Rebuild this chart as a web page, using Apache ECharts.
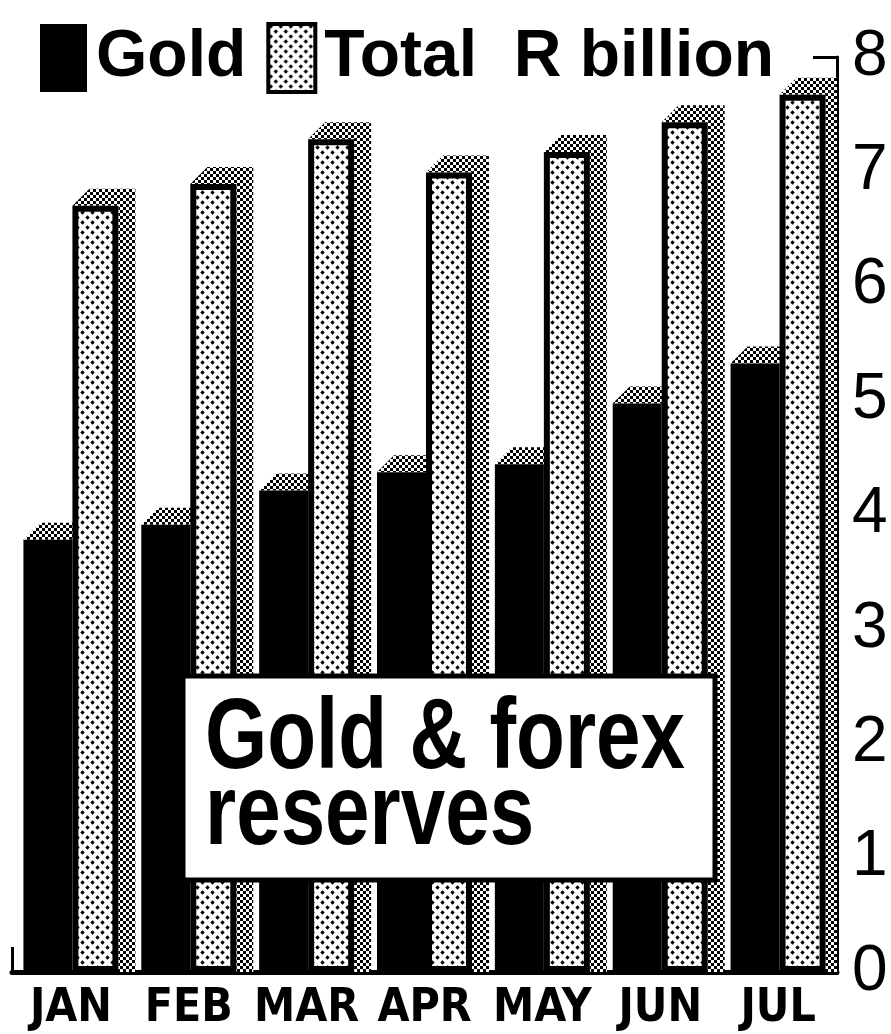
<!DOCTYPE html>
<html>
<head>
<meta charset="utf-8">
<script src="https://cdn.jsdelivr.net/npm/echarts@6/dist/echarts.min.js"></script>
<style>
  html, body { margin: 0; padding: 0; background: #fff; }
  #chart { width: 891px; height: 1034px; }
</style>
</head>
<body>
<div id="chart"></div>
<script>
// Monthly reserves, R billion
const months = ['JAN', 'FEB', 'MAR', 'APR', 'MAY', 'JUN', 'JUL'];
const gold = [3.78, 3.91, 4.21, 4.37, 4.44, 4.97, 5.32];
const total = [6.70, 6.89, 7.28, 6.99, 7.17, 7.43, 7.67];
const yMin = 0;
const yMax = 8;
const yStep = 1;

// Bar geometry (px) and depth of the 3-D faces
const GOLD_W = 49;
const TOTAL_W = 46;
const DX = 17;
const DY = 17;

// Halftone tiles used as fills
function tile(size, draw) {
  const c = document.createElement('canvas');
  c.width = c.height = size;
  const g = c.getContext('2d');
  g.fillStyle = '#fff';
  g.fillRect(0, 0, size, size);
  g.fillStyle = '#000';
  draw(g);
  return c;
}
function diamond(g, x, y, r) {
  g.beginPath();
  g.moveTo(x, y - r); g.lineTo(x + r, y); g.lineTo(x, y + r); g.lineTo(x - r, y);
  g.closePath();
  g.fill();
}
const dotTile = tile(10, g => { diamond(g, 2.5, 2.5, 2.2); diamond(g, 7.5, 7.5, 2.2); });
const zigTile = tile(6, g => { g.fillRect(0, 0, 3, 3); g.fillRect(3, 3, 3, 3); });
const dotFill = { image: dotTile, repeat: 'repeat' };
const zigFill = { image: zigTile, repeat: 'repeat' };

// Top (and optional side) faces drawn behind a bar's front
function depthFaces(offsetX, width, withSide) {
  return function (params, api) {
    const top = api.coord([api.value(0), api.value(1)]);
    const base = api.coord([api.value(0), 0]);
    const x0 = top[0] + offsetX;
    const x1 = x0 + width;
    const yT = top[1];
    const yB = base[1];
    const children = [{
      type: 'polygon',
      shape: { points: [[x0, yT], [x0 + DX, yT - DY], [x1 + DX, yT - DY], [x1, yT]] },
      style: { fill: zigFill }
    }];
    if (withSide) {
      children.push({
        type: 'polygon',
        shape: { points: [[x1, yT], [x1 + DX, yT - DY], [x1 + DX, yB], [x1, yB]] },
        style: { fill: zigFill }
      });
    }
    return { type: 'group', children };
  };
}

const titleFont = { fill: '#000', fontSize: 100, fontWeight: 'bold', fontFamily: 'Liberation Sans', verticalAlign: 'middle' };

const chart = echarts.init(document.getElementById('chart'));
chart.setOption({
  animation: false,
  backgroundColor: '#fff',
  grid: { left: 12, right: 54, top: 57, bottom: 62 },
  legend: {
    left: 35, top: 17,
    selectedMode: false,
    itemWidth: 47, itemHeight: 68, itemGap: 20,
    formatter: name => (name === 'Total' ? 'Total  R billion' : name),
    textStyle: {
      fontSize: 66, fontWeight: 'bold', fontFamily: 'Liberation Sans',
      color: '#000', padding: [0, 0, 4, 4]
    },
    data: [
      { name: 'Gold', icon: 'rect', itemStyle: { color: '#000', borderWidth: 0 } },
      { name: 'Total', icon: 'rect', itemStyle: { color: dotFill, borderColor: '#000', borderWidth: 4 } }
    ]
  },
  xAxis: {
    type: 'category',
    data: months,
    axisLine: { lineStyle: { color: '#000', width: 5 } },
    axisTick: {
      show: true, inside: true, length: 25,
      interval: (i) => i === 0,
      lineStyle: { color: '#000', width: 3 }
    },
    axisLabel: {
      interval: 0,
      color: '#000', fontSize: 46, fontWeight: 'bold', margin: 14,
      fontFamily: "'Liberation Sans Narrow', 'DejaVu Sans Condensed', sans-serif"
    }
  },
  yAxis: {
    type: 'value',
    position: 'right',
    min: yMin, max: yMax, interval: yStep,
    splitLine: { show: false },
    axisLine: { show: true, lineStyle: { color: '#000', width: 3 } },
    axisTick: { show: true, inside: true, length: 24, lineStyle: { color: '#000', width: 3 } },
    axisLabel: {
      color: '#000', fontSize: 64, margin: 15,
      fontFamily: 'Liberation Sans', padding: [0, 0, 10, 0]
    }
  },
  series: [
    {
      name: 'Gold faces', type: 'custom', z: 1, clip: true,
      renderItem: depthFaces(-(GOLD_W + TOTAL_W) / 2, GOLD_W, false),
      data: gold.map((v, i) => [i, v]),
      silent: true
    },
    {
      name: 'Gold', type: 'bar', z: 2,
      data: gold,
      barWidth: GOLD_W, barGap: '0%',
      itemStyle: { color: '#000' }
    },
    {
      name: 'Total faces', type: 'custom', z: 3, clip: true,
      renderItem: depthFaces((GOLD_W + TOTAL_W) / 2 - TOTAL_W, TOTAL_W, true),
      data: total.map((v, i) => [i, v]),
      silent: true
    },
    {
      name: 'Total', type: 'bar', z: 4,
      data: total,
      barWidth: TOTAL_W,
      itemStyle: { color: dotFill, borderColor: '#000', borderWidth: 6 }
    }
  ],
  graphic: [
    {
      type: 'rect', z: 100, zlevel: 1,
      shape: { x: 183, y: 676, width: 532, height: 204 },
      style: { fill: '#fff', stroke: '#000', lineWidth: 5 }
    },
    {
      type: 'text', z: 101, zlevel: 1, x: 205, y: 740, scaleX: 0.80,
      style: Object.assign({ text: 'Gold & forex' }, titleFont)
    },
    {
      type: 'text', z: 101, zlevel: 1, x: 205, y: 816, scaleX: 0.80,
      style: Object.assign({ text: 'reserves' }, titleFont)
    }
  ]
});
</script>
</body>
</html>
